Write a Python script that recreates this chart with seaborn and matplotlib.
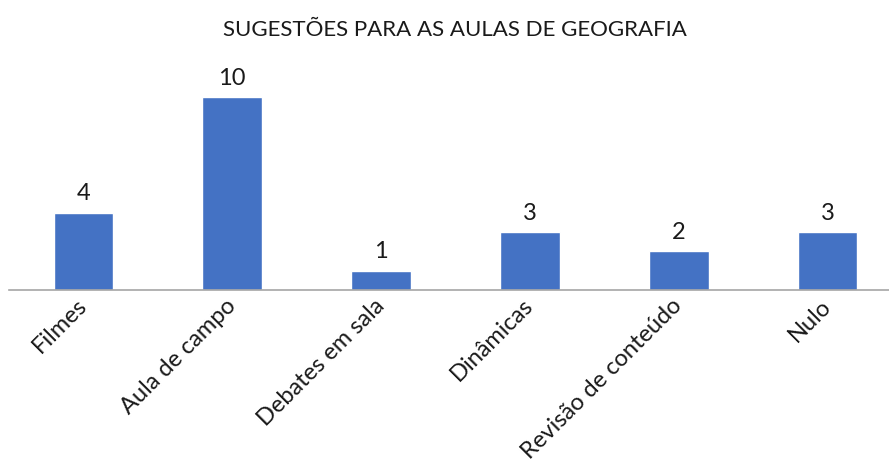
import matplotlib
matplotlib.use("Agg")
import matplotlib.pyplot as plt
import seaborn as sns
import pandas as pd

# --- data ---
categories = ["Filmes", "Aula de campo", "Debates em sala", "Dinâmicas",
              "Revisão de conteúdo", "Nulo"]
counts = [4, 10, 1, 3, 2, 3]
title = "SUGESTÕES PARA AS AULAS DE GEOGRAFIA"

BAR_COLOR = "#4472C4"
AXIS_COLOR = "#A6A6A6"
TEXT_COLOR = "#1A1A1A"

sns.set_theme(style="white")
plt.rcParams["font.family"] = ["Lato", "DejaVu Sans"]
plt.rcParams["text.color"] = TEXT_COLOR

df = pd.DataFrame({"categoria": categories, "total": counts})

W, H = 889, 461
fig = plt.figure(figsize=(W / 100, H / 100), dpi=100)
fig.patch.set_facecolor("white")

# axes placed in pixel terms: baseline at y=290, left edge at x=9
left, bottom = 9 / W, (H - 290) / H
width, height = 893 / W, 231.6 / H
ax = fig.add_axes([left, bottom, width, height])

sns.barplot(data=df, x="categoria", y="total", color=BAR_COLOR,
            width=0.40, saturation=1, ax=ax)

ax.set_xlim(-0.5, len(categories) - 0.5)
ax.set_ylim(0, 12)
ax.set_xlabel("")
ax.set_ylabel("")
ax.set_yticks([])

for s in ["top", "right", "left"]:
    ax.spines[s].set_visible(False)
ax.spines["bottom"].set_color(AXIS_COLOR)
ax.spines["bottom"].set_linewidth(1.2)

ax.tick_params(axis="x", length=0, pad=9)
ax.set_xticks(range(len(categories)))
ax.set_xticklabels(categories, rotation=45, ha="right", va="center",
                   rotation_mode="anchor", fontsize=17, color=TEXT_COLOR)

# value labels above bars
for p, v in zip(ax.patches, counts):
    ax.annotate(f"{v}", (p.get_x() + p.get_width() / 2, p.get_height()),
                xytext=(0, 6), textcoords="offset points",
                ha="center", va="bottom", fontsize=17, color=TEXT_COLOR)

fig.text(455 / W, 1 - 30 / H, title, ha="center", va="center",
         fontsize=16, color=TEXT_COLOR)

fig.savefig("out.png", dpi=100, facecolor="white")
